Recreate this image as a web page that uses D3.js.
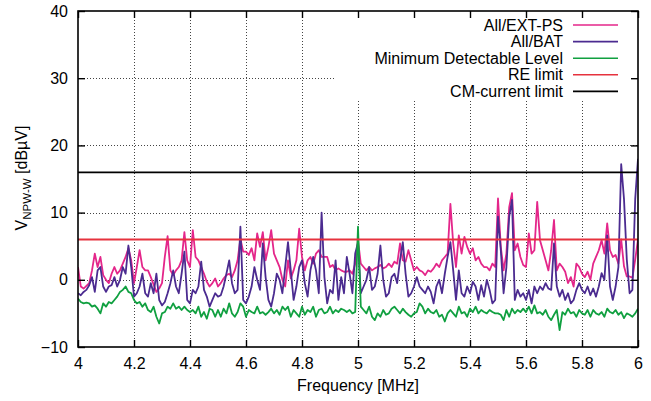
<!DOCTYPE html>
<html><head><meta charset="utf-8">
<script src="https://cdn.jsdelivr.net/npm/d3@7/dist/d3.min.js"></script>
<style>body{margin:0;background:#fff}svg{display:block}text{font-family:"Liberation Sans",Arial,Helvetica,sans-serif}</style>
</head><body>
<script>
// Frequency grid: 4.00 .. 6.00 MHz in 0.01 MHz steps
const freqStart = 4.0, freqStep = 0.01;
const xTicks = [4, 4.2, 4.4, 4.6, 4.8, 5, 5.2, 5.4, 5.6, 5.8, 6];
const xTickLabels = ["4","4.2","4.4","4.6","4.8","5","5.2","5.4","5.6","5.8","6"];
const yTicks = [-10, 0, 10, 20, 30, 40];
const reLimit = 6;
const cmLimit = 16;
const seriesNames = ["All/EXT-PS","All/BAT","Minimum Detectable Level","RE limit","CM-current limit"];
const seriesColors = ["#e4268a","#4b2b90","#10a040","#e6323e","#000000"];

const extps = [
1.9,-1.0,-1.3,-0.9,-0.5,1.4,3.9,1.9,3.4,0.7,
0,-0.5,0.9,1.9,0.9,1.4,2.4,3.4,4.7,2.9,
-0.5,1.9,4.4,1.9,1.4,1.4,0.4,-0.7,-1.8,-1.3,
-0.5,3.4,6.5,1.4,0.7,1.4,1.9,2.9,7.1,2.9,
1.9,7.4,3.4,2.9,1.9,0.9,-0.3,-1.0,-0.5,0.2,
-1.0,-0.5,0.2,0.7,0.9,0.4,1.4,2.9,6.1,4.2,
4.2,3.7,4.7,2.9,6.9,4.9,7.1,2.9,4.9,7.4,
3.9,2.9,1.9,0,-1.0,2.9,0.2,1.4,2.9,7.6,
3.4,1.4,2.9,3.4,2.4,3.9,4.4,3.4,3.4,3.4,
1.9,2.2,1.4,1.7,1.4,1.2,1.2,1.4,0.9,2.4,
5.9,2.4,1.9,1.4,1.9,1.4,1.7,1.9,2.2,1.7,
1.9,2.4,1.9,2.7,2.4,5.4,2.9,2.7,4.4,2.9,
1.4,1.9,1.4,1.2,0.7,1.4,1.2,1.7,2.4,1.9,
2.9,3.4,3.9,11.3,5.4,1.9,6.6,3.9,6.4,4.9,
3.9,4.7,2.9,3.4,2.4,1.9,1.9,1.4,2.4,1.9,
12.1,4.9,1.4,3.9,10.8,12.9,4.4,5.4,3.4,2.2,
1.9,6.9,3.9,4.4,11.6,5.9,4.4,2.9,1.4,4.4,
8.9,1.4,2.4,1.9,1.2,-0.5,0.4,-1.0,2.4,1.9,
0.9,0.4,1.2,0,2.4,3.4,4.4,5.9,3.9,8.4,
4.4,3.4,3.7,2.4,6.0,2.0,0.5,0.5,0.3,3.0,
6.0];

const bat = [
-2.0,-2.3,-1.8,-1.5,-0.8,0.4,-1.8,1.4,1.9,-1.0,
-1.8,-1.0,-0.8,0.4,-1.0,0,1.9,0.9,5.1,1.9,
-2.5,-2.0,-1.0,0.9,-2.0,-2.5,-0.5,-2.0,0.9,-3.0,
-3.8,-3.3,-2.0,-0.5,1.4,-1.0,-2.0,0.9,4.2,-3.0,
-3.5,-1.5,-2.0,-1.0,2.7,-1.5,-2.5,-4.0,-3.0,-2.0,
-2.5,-2.3,-1.0,0.9,2.9,-0.5,-2.0,-1.5,7.9,-3.0,
-3.5,-2.5,-1.0,1.9,0,-1.5,5.4,0.4,-3.0,-4.0,
-2.0,0.9,0,-2.0,1.9,5.6,1.4,-3.0,-1.0,1.9,
2.9,-0.5,-2.5,1.4,3.4,1.4,-2.0,10.0,0.4,-3.5,
-1.5,-2.0,2.9,-3.0,0.4,-2.0,3.4,0.9,-2.0,3.9,
5.5,-2.0,-1.0,0,1.9,-1.5,-1.0,0.9,5.1,0,
-2.5,-2.0,0.4,0.9,-0.5,2.9,5.6,0.9,-2.5,-2.0,
-1.0,0.4,-1.0,-1.5,-2.0,-1.0,-1.8,-3.5,-1.0,0,
-2.0,0.9,3.4,5.6,1.4,-3.0,1.4,-2.0,-2.5,-1.0,
-2.0,-0.3,-1.0,-3.0,-0.8,-2.5,0,-1.5,-3.5,-3.0,
9.4,4.4,-2.0,1.9,9.4,11.9,-3.0,-1.5,-2.5,-2.0,
-3.0,-1.5,-3.5,-1.0,-2.0,-1.0,-1.5,-0.5,-1.3,-1.5,
5.4,-1.0,-2.5,-1.5,-3.0,-2.0,-3.5,-3.0,-1.5,-0.5,
-1.5,-2.0,-1.0,-2.3,-1.3,-2.5,-1.0,1.0,0,6.6,
-1.0,-3.0,-1.0,1.9,17.2,12.0,3.0,-2.0,-1.5,12.0,
18.0];

const mdl = [
-2.8,-3.3,-3.5,-3.4,-3.5,-4.0,-3.8,-4.3,-5.0,-3.5,
-4.0,-3.3,-3.5,-3.0,-2.5,-1.8,-1.5,-1.0,-1.8,-2.0,
-3.0,-3.5,-3.3,-4.0,-3.5,-4.5,-4.8,-4.0,-5.5,-6.5,
-5.0,-4.8,-4.0,-4.3,-3.5,-4.3,-4.0,-4.5,-4.0,-4.5,
-4.8,-4.5,-5.0,-4.0,-5.5,-4.8,-5.8,-4.3,-4.5,-5.5,
-4.5,-5.5,-4.3,-5.0,-3.5,-5.0,-5.5,-4.8,-3.5,-4.0,
-5.5,-4.5,-4.8,-5.0,-4.0,-5.0,-4.8,-5.2,-4.8,-4.3,
-5.0,-4.5,-5.2,-4.0,-4.5,-4.0,-5.5,-4.5,-5.0,-5.5,
-4.0,-5.2,-4.5,-4.8,-4.0,-5.5,-4.5,-4.3,-5.0,-4.8,
-4.0,-5.0,-4.5,-4.8,-4.3,-4.5,-4.8,-4.5,-5.0,-4.8,
7.9,-4.0,-4.5,-5.0,-4.0,-5.5,-6.0,-5.0,-5.5,-4.5,
-5.2,-5.0,-4.3,-4.0,-4.5,-5.0,-4.3,-4.8,-5.2,-5.5,
-5.0,-4.8,-3.5,-4.0,-5.0,-4.3,-4.8,-5.0,-4.5,-5.5,
-5.2,-6.2,-5.0,-4.5,-5.0,-5.5,-4.0,-5.0,-4.8,-5.5,
-4.3,-4.8,-4.0,-5.0,-4.5,-4.8,-5.0,-4.5,-4.8,-5.0,
-5.0,-5.2,-6.0,-4.5,-5.5,-4.3,-5.0,-4.5,-4.8,-4.3,
-4.8,-4.0,-5.0,-3.8,-5.0,-4.8,-5.2,-4.5,-5.5,-6.0,
-5.2,-4.5,-7.5,-4.8,-5.2,-4.3,-5.0,-4.8,-5.5,-4.5,
-5.0,-5.2,-4.5,-5.5,-4.5,-5.0,-5.2,-4.8,-5.5,-4.3,
-4.8,-5.0,-4.5,-5.2,-4.8,-5.7,-5.0,-5.2,-5.5,-5.0,
-4.3];

const W = 651, H = 401;
const L = 78, R = 638, T = 11, B = 347;
const FS = 16;
const x = d3.scaleLinear().domain([4, 6]).range([L, R]);
const y = d3.scaleLinear().domain([-10, 40]).range([B, T]);
const freqOf = i => freqStart + i * freqStep;

const svg = d3.select("body").append("svg").attr("width", W).attr("height", H);

// grid
const grid = svg.append("g").attr("stroke", "#444").attr("stroke-width", 1).attr("stroke-dasharray", "1,2");
grid.selectAll("line.gx").data(xTicks.slice(1, -1)).join("line")
  .attr("x1", d => Math.round(x(d)) + 0.5).attr("x2", d => Math.round(x(d)) + 0.5)
  .attr("y1", T).attr("y2", B);
grid.selectAll("line.gy").data(yTicks.slice(1, -1)).join("line")
  .attr("x1", L).attr("x2", R)
  .attr("y1", d => Math.round(y(d)) + 0.5).attr("y2", d => Math.round(y(d)) + 0.5);

// legend background box (opaque)
svg.append("rect").attr("x", 335).attr("y", T).attr("width", R - 335).attr("height", 88).attr("fill", "#fff");

svg.append("defs").append("clipPath").attr("id", "clip")
  .append("rect").attr("x", L).attr("y", T).attr("width", R - L).attr("height", B - T);

const line = d3.line().x((d, i) => x(freqOf(i))).y(d => y(d));
const plot = svg.append("g").attr("clip-path", "url(#clip)");
[extps, bat, mdl].forEach((s, k) => {
  plot.append("path").datum(s).attr("d", line).attr("fill", "none")
    .attr("stroke", seriesColors[k]).attr("stroke-width", 1.8).attr("stroke-linejoin", "round");
});
[reLimit, cmLimit].forEach((v, k) => {
  plot.append("line").attr("x1", L).attr("x2", R).attr("y1", y(v)).attr("y2", y(v))
    .attr("stroke", seriesColors[3 + k]).attr("stroke-width", 1.8);
});

// axes
const fmtX = d => xTickLabels[xTicks.indexOf(d)];
const axB = svg.append("g").attr("transform", `translate(0,${B})`)
  .call(d3.axisBottom(x).tickValues(xTicks).tickFormat(fmtX).tickSize(-7).tickSizeOuter(0).tickPadding(11));
const axT = svg.append("g").attr("transform", `translate(0,${T})`)
  .call(d3.axisTop(x).tickValues(xTicks).tickFormat("").tickSize(-7).tickSizeOuter(0));
const axL = svg.append("g").attr("transform", `translate(${L},0)`)
  .call(d3.axisLeft(y).tickValues(yTicks).tickSize(-7).tickSizeOuter(0).tickPadding(10));
const axR = svg.append("g").attr("transform", `translate(${R},0)`)
  .call(d3.axisRight(y).tickValues(yTicks).tickFormat("").tickSize(-7).tickSizeOuter(0));
[axB, axT, axL, axR].forEach(a => {
  a.select(".domain").remove();
  a.selectAll(".tick line").attr("stroke", "#000").attr("stroke-width", 1.4);
  a.selectAll("text").attr("font-size", FS).attr("fill", "#000")
    .attr("font-family", '"Liberation Sans",Arial,Helvetica,sans-serif');
});

// border
svg.append("rect").attr("x", L).attr("y", T).attr("width", R - L).attr("height", B - T)
  .attr("fill", "none").attr("stroke", "#000").attr("stroke-width", 1.6);

// axis titles
svg.append("text").attr("x", (L + R) / 2).attr("y", 391).attr("text-anchor", "middle")
  .attr("font-size", FS).text("Frequency [MHz]");
const yl = svg.append("text").attr("transform", "translate(27,178) rotate(-90)")
  .attr("text-anchor", "middle").attr("font-size", FS);
yl.append("tspan").text("V");
yl.append("tspan").attr("font-size", 11.5).attr("dy", 4).text("NPW-W");
yl.append("tspan").attr("dy", -4).text(" [dBµV]");

// legend
const leg = svg.append("g");
seriesNames.forEach((n, i) => {
  const yy = 25 + i * 16.6;
  leg.append("text").attr("x", 563).attr("y", yy + 5.5).attr("text-anchor", "end")
    .attr("font-size", FS).text(n);
  leg.append("line").attr("x1", 573).attr("x2", 618).attr("y1", yy).attr("y2", yy)
    .attr("stroke", seriesColors[i]).attr("stroke-width", 1.6);
});
</script>
</body></html>
